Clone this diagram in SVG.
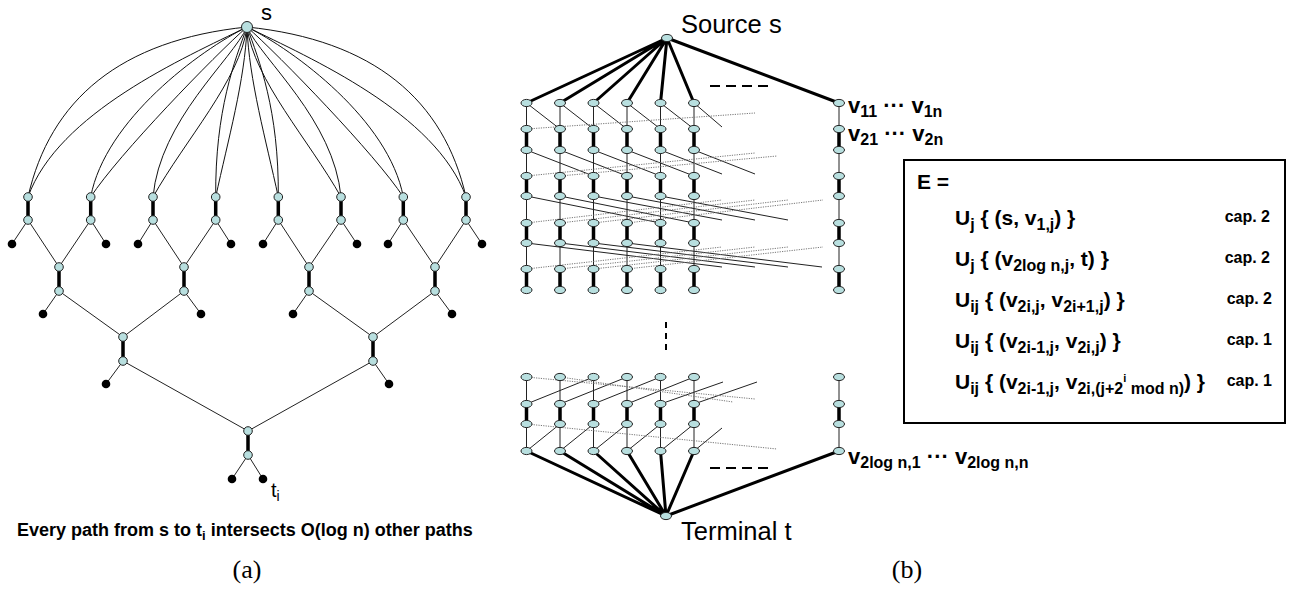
<svg xmlns="http://www.w3.org/2000/svg" width="1304" height="590" viewBox="0 0 1304 590">
  <style>
    .thin{fill:none;stroke:#222;stroke-width:1}
    .curve{fill:none;stroke:#111;stroke-width:1}
    .thick{fill:none;stroke:#000;stroke-width:3.5}
    .heavy{fill:none;stroke:#000;stroke-width:3}
    .dot{fill:none;stroke:#777;stroke-width:1;stroke-dasharray:1.2 1.2}
    .dash{fill:none;stroke:#000;stroke-width:2;stroke-dasharray:10 6}
    .vdash{fill:none;stroke:#000;stroke-width:2;stroke-dasharray:6 5}
    .cn{fill:#b8dfdf;stroke:#222;stroke-width:1}
    .leaf{fill:#000}
    .gn{fill:#b8dfdf;stroke:#222;stroke-width:1}
    .lbl{font-family:"Liberation Sans",Arial,sans-serif;fill:#000}
    .cap{font-family:"Liberation Sans",Arial,sans-serif;font-weight:bold;fill:#000}
    .bx{font-family:"Liberation Sans",Arial,sans-serif;font-weight:bold;font-size:21px;fill:#000}
    .sb{font-size:16px}
    .cp{font-family:"Liberation Sans",Arial,sans-serif;font-weight:bold;font-size:16px;fill:#000}
    .fig{font-family:"Liberation Serif","Times New Roman",serif;font-size:26px;fill:#000}
  </style>

  <!-- ===================== (a) tree of paths ===================== -->
  <g id="edges-a">
    <!-- curved paths from s to the first level (left half, then mirrored right half) -->
    <path class="curve" d="M247,27 C120,40 50,100 28,197"/>
    <path class="curve" d="M247,27 C184,58 58,113 28,197"/>
    <path class="curve" d="M247,27 C200,50 105,120 90.7,197"/>
    <path class="curve" d="M247,27 C215,55 118,155 90.7,197"/>
    <path class="curve" d="M247,27 C232,60 160,120 153,197"/>
    <path class="curve" d="M247,27 C240,80 185,140 153,197"/>
    <path class="curve" d="M247,27 C235,60 215,110 215.7,197"/>
    <path class="curve" d="M247,27 C245,80 228,140 215.7,197"/>
    <path class="curve" d="M247,27 C259,60 279,110 278.3,197"/>
    <path class="curve" d="M247,27 C249,80 266,140 278.3,197"/>
    <path class="curve" d="M247,27 C262,60 334,120 341,197"/>
    <path class="curve" d="M247,27 C254,80 309,140 341,197"/>
    <path class="curve" d="M247,27 C294,50 389,120 403.3,197"/>
    <path class="curve" d="M247,27 C279,55 376,155 403.3,197"/>
    <path class="curve" d="M247,27 C374,40 444,100 466,197"/>
    <path class="curve" d="M247,27 C310,58 436,113 466,197"/>
    <!-- heavy pair edges -->
    <path class="thick" d="M28,197V220 M90.7,197V220 M153,197V220 M215.7,197V220 M278.3,197V220 M341,197V220 M403.3,197V220 M466,197V220 M59,267V291 M184,267V291 M309,267V291 M435,267V291 M123,337V361 M373,337V361 M248,431V455"/>
    <!-- merging edges and leaf stubs -->
    <path class="thin" d="M28,220L59,267 M90.7,220L59,267 M153,220L184,267 M215.7,220L184,267 M278.3,220L309,267 M341,220L309,267 M403.3,220L435,267 M466,220L435,267"/>
    <path class="thin" d="M28,220L12,244 M90.7,220L106,244 M153,220L138,244 M215.7,220L231,244 M278.3,220L263,244 M341,220L357,244 M403.3,220L388,244 M466,220L482,244"/>
    <path class="thin" d="M59,291L123,337 M184,291L123,337 M309,291L373,337 M435,291L373,337 M59,291L43,314 M184,291L201,314 M309,291L293,314 M435,291L452,314"/>
    <path class="thin" d="M123,361L248,431 M373,361L248,431 M123,361L106,384 M373,361L389,384 M248,455L232,479 M248,455L263,479"/>
  </g>

  <g id="node-s-a"><circle class="cn" cx="247" cy="27" r="5.5"/></g>
  <g id="level1-a">
    <circle class="cn" cx="28" cy="197" r="4.3"/><circle class="cn" cx="28" cy="220" r="4.3"/>
    <circle class="cn" cx="90.7" cy="197" r="4.3"/><circle class="cn" cx="90.7" cy="220" r="4.3"/>
    <circle class="cn" cx="153" cy="197" r="4.3"/><circle class="cn" cx="153" cy="220" r="4.3"/>
    <circle class="cn" cx="215.7" cy="197" r="4.3"/><circle class="cn" cx="215.7" cy="220" r="4.3"/>
    <circle class="cn" cx="278.3" cy="197" r="4.3"/><circle class="cn" cx="278.3" cy="220" r="4.3"/>
    <circle class="cn" cx="341" cy="197" r="4.3"/><circle class="cn" cx="341" cy="220" r="4.3"/>
    <circle class="cn" cx="403.3" cy="197" r="4.3"/><circle class="cn" cx="403.3" cy="220" r="4.3"/>
    <circle class="cn" cx="466" cy="197" r="4.3"/><circle class="cn" cx="466" cy="220" r="4.3"/>
  </g>
  <g id="level2-a">
    <circle class="cn" cx="59" cy="267" r="4.3"/><circle class="cn" cx="59" cy="291" r="4.3"/>
    <circle class="cn" cx="184" cy="267" r="4.3"/><circle class="cn" cx="184" cy="291" r="4.3"/>
    <circle class="cn" cx="309" cy="267" r="4.3"/><circle class="cn" cx="309" cy="291" r="4.3"/>
    <circle class="cn" cx="435" cy="267" r="4.3"/><circle class="cn" cx="435" cy="291" r="4.3"/>
  </g>
  <g id="level3-a">
    <circle class="cn" cx="123" cy="337" r="4.3"/><circle class="cn" cx="123" cy="361" r="4.3"/>
    <circle class="cn" cx="373" cy="337" r="4.3"/><circle class="cn" cx="373" cy="361" r="4.3"/>
  </g>
  <g id="level4-a">
    <circle class="cn" cx="248" cy="431" r="4.3"/><circle class="cn" cx="248" cy="455" r="4.3"/>
  </g>
  <g id="leaves-a">
    <circle class="leaf" cx="12" cy="244" r="4.3"/><circle class="leaf" cx="106" cy="244" r="4.3"/>
    <circle class="leaf" cx="138" cy="244" r="4.3"/><circle class="leaf" cx="231" cy="244" r="4.3"/>
    <circle class="leaf" cx="263" cy="244" r="4.3"/><circle class="leaf" cx="357" cy="244" r="4.3"/>
    <circle class="leaf" cx="388" cy="244" r="4.3"/><circle class="leaf" cx="482" cy="244" r="4.3"/>
    <circle class="leaf" cx="43" cy="314" r="4.3"/><circle class="leaf" cx="201" cy="314" r="4.3"/>
    <circle class="leaf" cx="293" cy="314" r="4.3"/><circle class="leaf" cx="452" cy="314" r="4.3"/>
    <circle class="leaf" cx="106" cy="384" r="4.3"/><circle class="leaf" cx="389" cy="384" r="4.3"/>
    <circle class="leaf" cx="232" cy="479" r="4.3"/><circle class="leaf" cx="263" cy="479" r="4.3"/>
  </g>
  <g id="labels-a">
    <text class="lbl" x="261" y="20" font-size="22">s</text>
    <text class="lbl" x="271" y="497" font-size="20">t<tspan font-size="14" dy="4">i</tspan></text>
    <text class="cap" x="17" y="536" font-size="18">Every path from s to t<tspan font-size="13" dy="4">i</tspan><tspan dy="-4"> intersects O(log n) other paths</tspan></text>
    <text class="fig" x="247" y="578" text-anchor="middle">(a)</text>
  </g>

  <!-- ===================== (b) layered network ===================== -->
  <g id="edges-b">
    <!-- source and terminal edges -->
    <path class="heavy" d="M667,38L526.5,103 M667,38L560,103 M667,38L593.5,103 M667,38L627,103 M667,38L660.5,103 M667,38L694,103 M667,38L839,103"/>
    <path class="heavy" d="M666,516L526.5,451 M666,516L560,451 M666,516L593.5,451 M666,516L627,451 M666,516L660.5,451 M666,516L694,451 M666,516L839,451"/>
    <!-- column edges, capacity 1 -->
    <path class="thin" d="M526.5,103V290 M560,103V290 M593.5,103V290 M627,103V290 M660.5,103V290 M694,103V290 M839,103V290 M526.5,377V451 M560,377V451 M593.5,377V451 M627,377V451 M660.5,377V451 M694,377V451 M839,377V451"/>
    <!-- column edges, capacity 2 -->
    <path class="thick" d="M526.5,129V150 M526.5,176V196 M526.5,223V243 M526.5,269V290 M526.5,404V424
      M560,129V150 M560,176V196 M560,223V243 M560,269V290 M560,404V424
      M593.5,129V150 M593.5,176V196 M593.5,223V243 M593.5,269V290 M593.5,404V424
      M627,129V150 M627,176V196 M627,223V243 M627,269V290 M627,404V424
      M660.5,129V150 M660.5,176V196 M660.5,223V243 M660.5,269V290 M660.5,404V424
      M694,129V150 M694,176V196 M694,223V243 M694,269V290 M694,404V424
      M839,129V150 M839,176V196 M839,223V243 M839,269V290 M839,404V424"/>
    <!-- shifted cross edges, level 1 -->
    <path class="thin" d="M526.5,103L560,129 M560,103L593.5,129 M593.5,103L627,129 M627,103L660.5,129 M660.5,103L694,129 M694,103L722,127"/>
    <path class="dot" d="M526.5,129L755,113"/>
    <!-- level 2 -->
    <path class="thin" d="M526.5,150L593.5,176 M560,150L627,176 M593.5,150L660.5,176 M627,150L694,176 M660.5,150L722,174 M694,150L755,174"/>
    <path class="dot" d="M526.5,176L755,153 M560,176L777,156"/>
    <!-- level 3 -->
    <path class="thin" d="M526.5,196L660.5,223 M560,196L694,223 M593.5,196L722,220 M627,196L755,220 M660.5,196L788,220"/>
    <path class="dot" d="M526.5,223L722,200 M560,223L755,200 M593.5,223L788,200 M627,223L823,200"/>
    <!-- level 4 -->
    <path class="thin" d="M526.5,243L722,267 M560,243L755,267 M593.5,243L788,267 M627,243L822,267"/>
    <path class="dot" d="M526.5,269L722,247 M560,269L755,247 M593.5,269L788,247 M627,269L823,247"/>
    <!-- lower levels -->
    <path class="thin" d="M526.5,404L593.5,377 M560,404L627,377 M593.5,404L660.5,377 M627,404L694,377 M660.5,404L723,382 M694,404L757,382"/>
    <path class="dot" d="M526.5,377L755,399 M560,377L733,402"/>
    <path class="thin" d="M526.5,451L560,424 M560,451L593.5,424 M593.5,451L627,424 M627,451L660.5,424 M660.5,451L694,424 M694,451L722,428"/>
    <path class="dot" d="M526.5,424L777,449"/>
    <!-- ellipsis marks -->
    <path class="dash" d="M710,86H770 M710,468H770"/>
    <path class="vdash" d="M666,322V354"/>
  </g>

  <g id="node-source"><ellipse class="gn" cx="667" cy="38" rx="5.5" ry="3.6"/></g>
  <g id="node-terminal"><ellipse class="gn" cx="666" cy="516" rx="5.5" ry="3.6"/></g>
  <g id="column-1">
    <ellipse class="gn" cx="526.5" cy="103" rx="5.5" ry="3.6"/><ellipse class="gn" cx="526.5" cy="129" rx="5.5" ry="3.6"/><ellipse class="gn" cx="526.5" cy="150" rx="5.5" ry="3.6"/><ellipse class="gn" cx="526.5" cy="176" rx="5.5" ry="3.6"/><ellipse class="gn" cx="526.5" cy="196" rx="5.5" ry="3.6"/><ellipse class="gn" cx="526.5" cy="223" rx="5.5" ry="3.6"/><ellipse class="gn" cx="526.5" cy="243" rx="5.5" ry="3.6"/><ellipse class="gn" cx="526.5" cy="269" rx="5.5" ry="3.6"/><ellipse class="gn" cx="526.5" cy="290" rx="5.5" ry="3.6"/>
    <ellipse class="gn" cx="526.5" cy="377" rx="5.5" ry="3.6"/><ellipse class="gn" cx="526.5" cy="404" rx="5.5" ry="3.6"/><ellipse class="gn" cx="526.5" cy="424" rx="5.5" ry="3.6"/><ellipse class="gn" cx="526.5" cy="451" rx="5.5" ry="3.6"/>
  </g>
  <g id="column-2">
    <ellipse class="gn" cx="560" cy="103" rx="5.5" ry="3.6"/><ellipse class="gn" cx="560" cy="129" rx="5.5" ry="3.6"/><ellipse class="gn" cx="560" cy="150" rx="5.5" ry="3.6"/><ellipse class="gn" cx="560" cy="176" rx="5.5" ry="3.6"/><ellipse class="gn" cx="560" cy="196" rx="5.5" ry="3.6"/><ellipse class="gn" cx="560" cy="223" rx="5.5" ry="3.6"/><ellipse class="gn" cx="560" cy="243" rx="5.5" ry="3.6"/><ellipse class="gn" cx="560" cy="269" rx="5.5" ry="3.6"/><ellipse class="gn" cx="560" cy="290" rx="5.5" ry="3.6"/>
    <ellipse class="gn" cx="560" cy="377" rx="5.5" ry="3.6"/><ellipse class="gn" cx="560" cy="404" rx="5.5" ry="3.6"/><ellipse class="gn" cx="560" cy="424" rx="5.5" ry="3.6"/><ellipse class="gn" cx="560" cy="451" rx="5.5" ry="3.6"/>
  </g>
  <g id="column-3">
    <ellipse class="gn" cx="593.5" cy="103" rx="5.5" ry="3.6"/><ellipse class="gn" cx="593.5" cy="129" rx="5.5" ry="3.6"/><ellipse class="gn" cx="593.5" cy="150" rx="5.5" ry="3.6"/><ellipse class="gn" cx="593.5" cy="176" rx="5.5" ry="3.6"/><ellipse class="gn" cx="593.5" cy="196" rx="5.5" ry="3.6"/><ellipse class="gn" cx="593.5" cy="223" rx="5.5" ry="3.6"/><ellipse class="gn" cx="593.5" cy="243" rx="5.5" ry="3.6"/><ellipse class="gn" cx="593.5" cy="269" rx="5.5" ry="3.6"/><ellipse class="gn" cx="593.5" cy="290" rx="5.5" ry="3.6"/>
    <ellipse class="gn" cx="593.5" cy="377" rx="5.5" ry="3.6"/><ellipse class="gn" cx="593.5" cy="404" rx="5.5" ry="3.6"/><ellipse class="gn" cx="593.5" cy="424" rx="5.5" ry="3.6"/><ellipse class="gn" cx="593.5" cy="451" rx="5.5" ry="3.6"/>
  </g>
  <g id="column-4">
    <ellipse class="gn" cx="627" cy="103" rx="5.5" ry="3.6"/><ellipse class="gn" cx="627" cy="129" rx="5.5" ry="3.6"/><ellipse class="gn" cx="627" cy="150" rx="5.5" ry="3.6"/><ellipse class="gn" cx="627" cy="176" rx="5.5" ry="3.6"/><ellipse class="gn" cx="627" cy="196" rx="5.5" ry="3.6"/><ellipse class="gn" cx="627" cy="223" rx="5.5" ry="3.6"/><ellipse class="gn" cx="627" cy="243" rx="5.5" ry="3.6"/><ellipse class="gn" cx="627" cy="269" rx="5.5" ry="3.6"/><ellipse class="gn" cx="627" cy="290" rx="5.5" ry="3.6"/>
    <ellipse class="gn" cx="627" cy="377" rx="5.5" ry="3.6"/><ellipse class="gn" cx="627" cy="404" rx="5.5" ry="3.6"/><ellipse class="gn" cx="627" cy="424" rx="5.5" ry="3.6"/><ellipse class="gn" cx="627" cy="451" rx="5.5" ry="3.6"/>
  </g>
  <g id="column-5">
    <ellipse class="gn" cx="660.5" cy="103" rx="5.5" ry="3.6"/><ellipse class="gn" cx="660.5" cy="129" rx="5.5" ry="3.6"/><ellipse class="gn" cx="660.5" cy="150" rx="5.5" ry="3.6"/><ellipse class="gn" cx="660.5" cy="176" rx="5.5" ry="3.6"/><ellipse class="gn" cx="660.5" cy="196" rx="5.5" ry="3.6"/><ellipse class="gn" cx="660.5" cy="223" rx="5.5" ry="3.6"/><ellipse class="gn" cx="660.5" cy="243" rx="5.5" ry="3.6"/><ellipse class="gn" cx="660.5" cy="269" rx="5.5" ry="3.6"/><ellipse class="gn" cx="660.5" cy="290" rx="5.5" ry="3.6"/>
    <ellipse class="gn" cx="660.5" cy="377" rx="5.5" ry="3.6"/><ellipse class="gn" cx="660.5" cy="404" rx="5.5" ry="3.6"/><ellipse class="gn" cx="660.5" cy="424" rx="5.5" ry="3.6"/><ellipse class="gn" cx="660.5" cy="451" rx="5.5" ry="3.6"/>
  </g>
  <g id="column-6">
    <ellipse class="gn" cx="694" cy="103" rx="5.5" ry="3.6"/><ellipse class="gn" cx="694" cy="129" rx="5.5" ry="3.6"/><ellipse class="gn" cx="694" cy="150" rx="5.5" ry="3.6"/><ellipse class="gn" cx="694" cy="176" rx="5.5" ry="3.6"/><ellipse class="gn" cx="694" cy="196" rx="5.5" ry="3.6"/><ellipse class="gn" cx="694" cy="223" rx="5.5" ry="3.6"/><ellipse class="gn" cx="694" cy="243" rx="5.5" ry="3.6"/><ellipse class="gn" cx="694" cy="269" rx="5.5" ry="3.6"/><ellipse class="gn" cx="694" cy="290" rx="5.5" ry="3.6"/>
    <ellipse class="gn" cx="694" cy="377" rx="5.5" ry="3.6"/><ellipse class="gn" cx="694" cy="404" rx="5.5" ry="3.6"/><ellipse class="gn" cx="694" cy="424" rx="5.5" ry="3.6"/><ellipse class="gn" cx="694" cy="451" rx="5.5" ry="3.6"/>
  </g>
  <g id="column-n">
    <ellipse class="gn" cx="839" cy="103" rx="5.5" ry="3.6"/><ellipse class="gn" cx="839" cy="129" rx="5.5" ry="3.6"/><ellipse class="gn" cx="839" cy="150" rx="5.5" ry="3.6"/><ellipse class="gn" cx="839" cy="176" rx="5.5" ry="3.6"/><ellipse class="gn" cx="839" cy="196" rx="5.5" ry="3.6"/><ellipse class="gn" cx="839" cy="223" rx="5.5" ry="3.6"/><ellipse class="gn" cx="839" cy="243" rx="5.5" ry="3.6"/><ellipse class="gn" cx="839" cy="269" rx="5.5" ry="3.6"/><ellipse class="gn" cx="839" cy="290" rx="5.5" ry="3.6"/>
    <ellipse class="gn" cx="839" cy="377" rx="5.5" ry="3.6"/><ellipse class="gn" cx="839" cy="404" rx="5.5" ry="3.6"/><ellipse class="gn" cx="839" cy="424" rx="5.5" ry="3.6"/><ellipse class="gn" cx="839" cy="451" rx="5.5" ry="3.6"/>
  </g>

  <g id="labels-b">
    <text class="lbl" x="681" y="33" font-size="25.5">Source s</text>
    <text class="lbl" x="681" y="540" font-size="25.5">Terminal t</text>
    <text class="cap" x="848" y="113" font-size="22">v<tspan font-size="16" dy="4">11</tspan><tspan dy="-4"> ··· v</tspan><tspan font-size="16" dy="4">1n</tspan></text>
    <text class="cap" x="848" y="141" font-size="22">v<tspan font-size="16" dy="4">21</tspan><tspan dy="-4"> ··· v</tspan><tspan font-size="16" dy="4">2n</tspan></text>
    <text class="cap" x="848" y="464" font-size="22">v<tspan font-size="16" dy="4">2log n,1</tspan><tspan dy="-4"> ··· v</tspan><tspan font-size="16" dy="4">2log n,n</tspan></text>
    <text class="fig" x="907" y="578" text-anchor="middle">(b)</text>
  </g>

  <g id="edge-set">
    <rect x="904" y="160" width="381" height="263" fill="#fff" stroke="#000" stroke-width="2"/>
    <text class="bx" x="917" y="189">E =</text>
    <text class="bx" x="955" y="225">U<tspan class="sb" dy="5">j</tspan><tspan dy="-5"> { (s, v</tspan><tspan class="sb" dy="5">1,j</tspan><tspan dy="-5">) }</tspan></text>
    <text class="bx" x="955" y="266">U<tspan class="sb" dy="5">j</tspan><tspan dy="-5"> { (v</tspan><tspan class="sb" dy="5">2log n,j</tspan><tspan dy="-5">, t) }</tspan></text>
    <text class="bx" x="955" y="307">U<tspan class="sb" dy="5">ij</tspan><tspan dy="-5"> { (v</tspan><tspan class="sb" dy="5">2i,j</tspan><tspan dy="-5">, v</tspan><tspan class="sb" dy="5">2i+1,j</tspan><tspan dy="-5">) }</tspan></text>
    <text class="bx" x="955" y="348">U<tspan class="sb" dy="5">ij</tspan><tspan dy="-5"> { (v</tspan><tspan class="sb" dy="5">2i-1,j</tspan><tspan dy="-5">, v</tspan><tspan class="sb" dy="5">2i,j</tspan><tspan dy="-5">) }</tspan></text>
    <text class="bx" x="955" y="389">U<tspan class="sb" dy="5">ij</tspan><tspan dy="-5"> { (v</tspan><tspan class="sb" dy="5">2i-1,j</tspan><tspan dy="-5">, v</tspan><tspan class="sb" dy="5">2i,(j+2</tspan><tspan font-size="11" dy="-12">i</tspan><tspan class="sb" dy="12"> mod n)</tspan><tspan dy="-5">) }</tspan></text>
    <text class="cp" x="1270" y="222" text-anchor="end">cap. 2</text>
    <text class="cp" x="1270" y="263" text-anchor="end">cap. 2</text>
    <text class="cp" x="1272" y="304" text-anchor="end">cap. 2</text>
    <text class="cp" x="1272" y="345" text-anchor="end">cap. 1</text>
    <text class="cp" x="1272" y="386" text-anchor="end">cap. 1</text>
  </g>
</svg>
